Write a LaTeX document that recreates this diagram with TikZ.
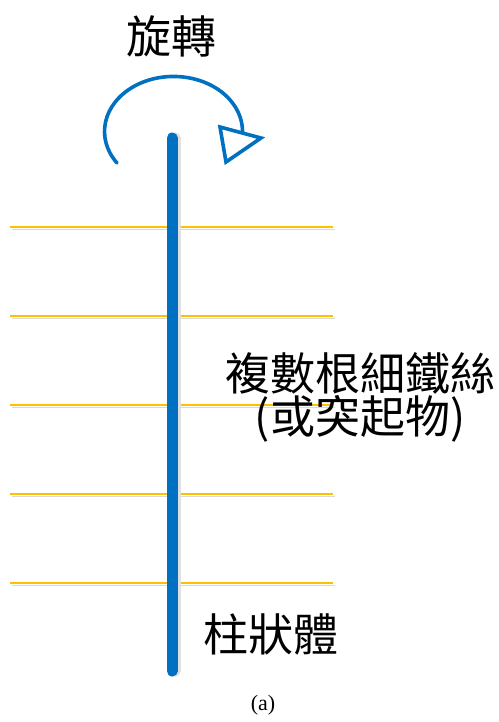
\documentclass[tikz,border=0pt]{standalone}
\usepackage{fontspec}
\setmainfont{Liberation Serif}
\newfontfamily\cjk{Noto Sans CJK TC}
\definecolor{rodblue}{HTML}{0070C0}
\definecolor{wireyellow}{HTML}{FFC000}
\begin{document}
\begin{tikzpicture}[x=1pt,y=-1pt,
  wire/.style={draw=wireyellow,line width=1.8pt},
  wireshadow/.style={draw=black!15,line width=1.6pt},
  rod/.style={draw=rodblue,line width=11pt,line cap=round},
  label/.style={font=\cjk\fontsize{45}{43}\selectfont,inner sep=0pt,text=black,align=center},
  rotarc/.style={draw=rodblue,line width=3.6pt,line cap=round},
  tip/.style={draw=rodblue,fill=white,line width=3.6pt,line join=miter}]
\useasboundingbox (0,0) rectangle (498,722);
% wires
\foreach \y [count=\i] in {227,316,405,494,583}{
  \coordinate (wl\i) at (10,\y);
  \coordinate (wr\i) at (333,\y);
  \draw[wireshadow] ([shift={(2,2.5)}]wl\i) -- ([shift={(2,2.5)}]wr\i);
  \draw[wire] (wl\i) -- (wr\i);
}
% rod
\coordinate (rtop) at (172,138);
\coordinate (rbot) at (172,671);
\draw[draw=black!12,line width=11pt,line cap=round] ([xshift=3]rtop) -- ([xshift=3]rbot);
\draw[rod] (rtop) -- (rbot);
% rotation arc
\coordinate (arcstart) at (117,163);
\draw[rotarc] (arcstart) arc[start angle=145,end angle=364,x radius=69,y radius=55];
\coordinate (t1) at (220,127);
\coordinate (t2) at (261,138);
\coordinate (t3) at (226,162);
\draw[tip] (t1) -- (t2) -- (t3) -- cycle;
% labels
\node[label] (rot) at (171,36) {旋轉};
\node[label] (wires) at (360,397) {複數根細鐵絲\\(或突起物)};
\node[label] (body) at (271,634) {柱狀體};
\node[font=\fontsize{22}{26}\selectfont,inner sep=0pt] (cap) at (263,705) {(a)};
\end{tikzpicture}
\end{document}
